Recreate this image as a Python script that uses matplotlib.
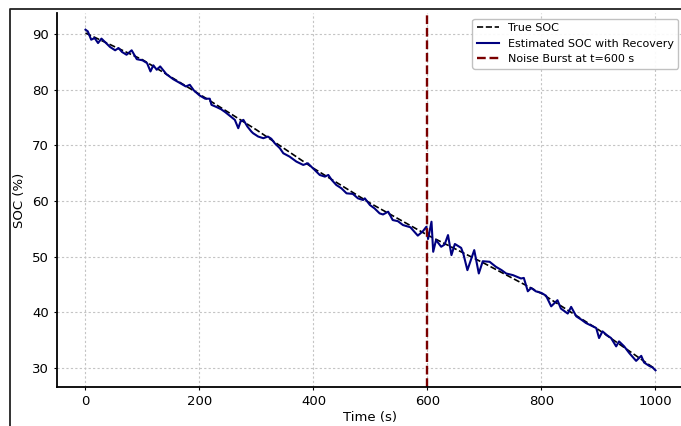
import matplotlib
matplotlib.use("Agg")
import matplotlib.pyplot as plt
from matplotlib.lines import Line2D

# true SOC
t_true = [0, 100, 200, 300, 400, 500, 600, 700, 800, 900, 1000]
soc_true = [90.2, 85.4, 79.2, 72.8, 65.9, 59.6, 53.9, 48.8, 43.4, 36.9, 29.8]

# estimated SOC with recovery
t_est = [0, 4, 10, 16, 22, 28, 34, 43, 52, 58, 64, 72, 81, 90, 100, 108, 114, 119,
         125, 131, 142, 154, 166, 176, 183, 190, 200, 210, 218, 221, 230, 238, 245,
         256, 262, 268, 272, 277, 284, 291, 294, 303, 312, 320, 326, 332, 341, 347,
         358, 370, 382, 390, 399, 411, 420, 426, 432, 440, 449, 458, 469, 478, 487,
         490, 499, 507, 516, 522, 531, 539, 548, 557, 570, 583, 592, 598, 601, 607,
         610, 615, 624, 630, 636, 642, 648, 659, 663, 670, 682, 690, 697, 709, 720,
         730, 738, 750, 764, 769, 776, 782, 790, 800, 808, 817, 828, 834, 846, 852,
         861, 870, 878, 888, 896, 901, 907, 915, 922, 931, 936, 945, 954, 966, 975,
         980, 989, 995, 1000]
soc_est = [90.8, 90.5, 89.0, 89.3, 88.4, 89.2, 88.6, 87.7, 87.1, 87.5, 86.8, 86.3, 87.1,
           85.5, 85.3, 84.8, 83.3, 84.4, 83.6, 84.2, 82.8, 81.9, 81.2, 80.6, 80.9, 79.9,
           79.0, 78.4, 78.4, 77.3, 76.9, 76.5, 76.0, 75.1, 74.6, 73.1, 74.3, 74.6, 73.4,
           72.5, 72.2, 71.6, 71.3, 71.6, 71.2, 70.4, 69.5, 68.6, 68.0, 67.1, 66.5, 66.8,
           65.9, 64.7, 64.4, 64.7, 63.8, 62.9, 62.3, 61.4, 61.3, 60.5, 60.2, 60.5, 59.3,
           58.7, 57.8, 57.6, 58.1, 56.6, 56.4, 55.7, 55.3, 53.8, 54.6, 55.4, 53.2, 56.3,
           50.9, 53.0, 51.8, 52.2, 53.9, 50.3, 52.3, 51.6, 50.5, 47.6, 51.2, 47.0, 49.2,
           49.1, 48.2, 47.6, 47.0, 46.7, 46.1, 46.2, 43.8, 44.4, 43.8, 43.5, 43.0, 41.1,
           42.2, 40.7, 39.8, 41.0, 39.3, 38.7, 38.1, 37.6, 37.2, 35.4, 36.6, 35.9, 35.4,
           33.9, 34.8, 33.9, 32.7, 31.3, 32.2, 31.0, 30.4, 30.1, 29.6]

burst_t = 600

fig = plt.figure(figsize=(6.81, 4.26), dpi=100)
ax = fig.add_axes([0.0837, 0.0915, 0.9207, 0.878])

ax.plot(t_true, soc_true, "--", color="black", lw=1.2, label="True SOC")
ax.plot(t_est, soc_est, "-", color="#000080", lw=1.5, label="Estimated SOC with Recovery")
ax.axvline(burst_t, color="#7a0000", ls="--", lw=1.7, label="Noise Burst at t=600 s")

ax.set_xlim(-50, 1050)
ax.set_ylim(26.6, 93.8)
ax.set_xticks([0, 200, 400, 600, 800, 1000])
ax.set_yticks([30, 40, 50, 60, 70, 80, 90])
ax.tick_params(labelsize=9.5, length=2.5, width=0.8)
ax.set_xlabel("Time (s)", fontsize=9.5, labelpad=2)
ax.set_ylabel("SOC (%)", fontsize=9.5)
ax.grid(True, ls=(0, (2, 2)), color="#c4c4c4", lw=0.8)
for s in ["top", "right"]:
    ax.spines[s].set_visible(False)
for s in ["left", "bottom"]:
    ax.spines[s].set_linewidth(1.3)
ax.legend(loc="upper right", fontsize=8, framealpha=0.9, edgecolor="#bbbbbb")

# frame of the screenshot (top and left edges)
fx, fy = 10 / 681, 1 - 9 / 426
fig.add_artist(Line2D([fx, fx, 1], [0, fy, fy], transform=fig.transFigure,
                      color="#222222", lw=1.3))

fig.savefig("out.png", dpi=100)
